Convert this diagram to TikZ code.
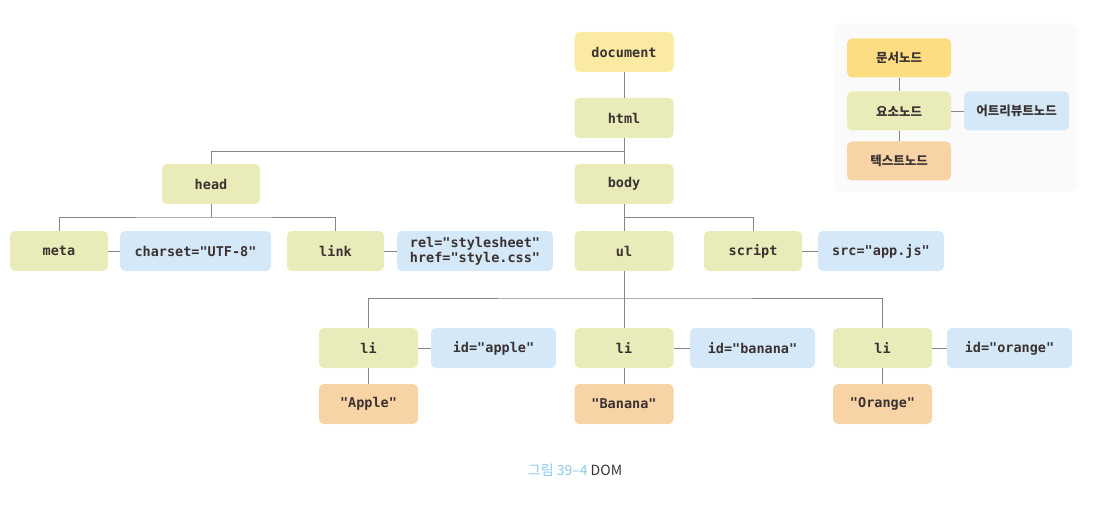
\documentclass[tikz,border=0pt]{standalone}
\usepackage{fontspec}
\setmonofont{DejaVu Sans Mono}
\newfontfamily\kr{Noto Sans CJK KR}
\usetikzlibrary{calc}
\definecolor{docY}{HTML}{FBEBA2}
\definecolor{docL}{HTML}{FCDD82}
\definecolor{elG}{HTML}{E9ECB8}
\definecolor{atB}{HTML}{D5E8F7}
\definecolor{txO}{HTML}{F8D3A6}
\definecolor{ink}{HTML}{3A3232}
\definecolor{wire}{HTML}{8C8484}
\definecolor{capB}{HTML}{8CC8EA}
\definecolor{legbg}{HTML}{FAFAFA}
\tikzset{
  box/.style={rounded corners=5pt, minimum height=40pt, inner sep=2pt, align=center,
    text=ink, font=\fontsize{13.5}{15}\selectfont\ttfamily\bfseries},
  docbox/.style={box, fill=docY, minimum width=99pt},
  elbox/.style={box, fill=elG},
  atbox/.style={box, fill=atB},
  txbox/.style={box, fill=txO},
  legbox/.style={rounded corners=5pt, minimum height=39pt, minimum width=104pt, text=ink,
    font=\fontsize{12.5}{14}\selectfont\kr\bfseries},
  wire/.style={draw=wire, line width=0.6pt},
}
\begin{document}
\begin{tikzpicture}[x=1pt,y=-1pt]
\useasboundingbox (0,0) rectangle (1112,516);
% legend background
\fill[legbg, rounded corners=6pt] (834,24) rectangle (1076,192);
% tree nodes
\node[docbox] (doc) at (624,52) {document};
\node[elbox, minimum width=99pt] (html) at (624,118) {html};
\node[elbox, minimum width=98pt] (head) at (211,184) {head};
\node[elbox, minimum width=99pt] (body) at (624,184) {body};
\node[elbox, minimum width=98pt] (meta) at (59,251) {meta};
\node[atbox, minimum width=151pt] (charset) at (195.5,251) {charset="UTF-8"};
\node[elbox, minimum width=97pt] (link) at (335.5,251) {link};
\node[atbox, minimum width=156pt] (rel) at (475,251) {rel="stylesheet"\\href="style.css"};
\node[elbox, minimum width=99pt] (ul) at (624,251) {ul};
\node[elbox, minimum width=98pt] (script) at (753,251) {script};
\node[atbox, minimum width=126pt] (src) at (881,251) {src="app.js"};
\node[elbox, minimum width=99pt] (li1) at (368.5,348) {li};
\node[atbox, minimum width=125pt] (ida) at (493.5,348) {id="apple"};
\node[elbox, minimum width=99pt] (li2) at (624,348) {li};
\node[atbox, minimum width=125pt] (idb) at (752.5,348) {id="banana"};
\node[elbox, minimum width=99pt] (li3) at (882.5,348) {li};
\node[atbox, minimum width=125pt] (ido) at (1009.5,348) {id="orange"};
\node[txbox, minimum width=99pt] (apple) at (368.5,404) {"Apple"};
\node[txbox, minimum width=99pt] (banana) at (624,404) {"Banana"};
\node[txbox, minimum width=99pt] (orange) at (882.5,404) {"Orange"};
% junctions
\coordinate (j1) at (624,151);
\coordinate (j2) at (211,217);
\coordinate (j3) at (624,217);
\coordinate (j4) at (624,298);
% connectors
\draw[wire] (doc) -- (html);
\draw[wire] (html) -- (body);
\draw[wire] (head.north) |- (j1);
\draw[wire] (head.south) -- (j2);
\draw[wire] (meta.north) |- (j2) -| (link.north);
\draw[wire] (body) -- (ul);
\draw[wire] (j3) -| (script.north);
\draw[wire] (ul.south) -- (li2.north);
\draw[wire] (li1.north) |- (j4) -| (li3.north);
\draw[wire] (meta) -- (charset);
\draw[wire] (link) -- (rel);
\draw[wire] (script) -- (src);
\draw[wire] (li1) -- (ida);
\draw[wire] (li2) -- (idb);
\draw[wire] (li3) -- (ido);
\draw[wire] (li1) -- (apple);
\draw[wire] (li2) -- (banana);
\draw[wire] (li3) -- (orange);
% legend
\node[legbox, fill=docL] (lgdoc) at (899,58) {문서노드};
\node[legbox, fill=elG] (lgel) at (899,111) {요소노드};
\node[legbox, fill=txO] (lgtx) at (899,161) {텍스트노드};
\node[legbox, fill=atB, minimum width=105pt] (lgat) at (1016.5,111) {어트리뷰트노드};
\draw[wire] (lgdoc) -- (lgel);
\draw[wire] (lgel) -- (lgtx);
\draw[wire] (lgel) -- (lgat);
% caption
\node[font=\fontsize{14}{16}\selectfont\kr, inner sep=0pt] (cap) at (575,470)
  {\textcolor{capB}{그림 39–4} \textcolor{ink}{DOM}};
\end{tikzpicture}
\end{document}
